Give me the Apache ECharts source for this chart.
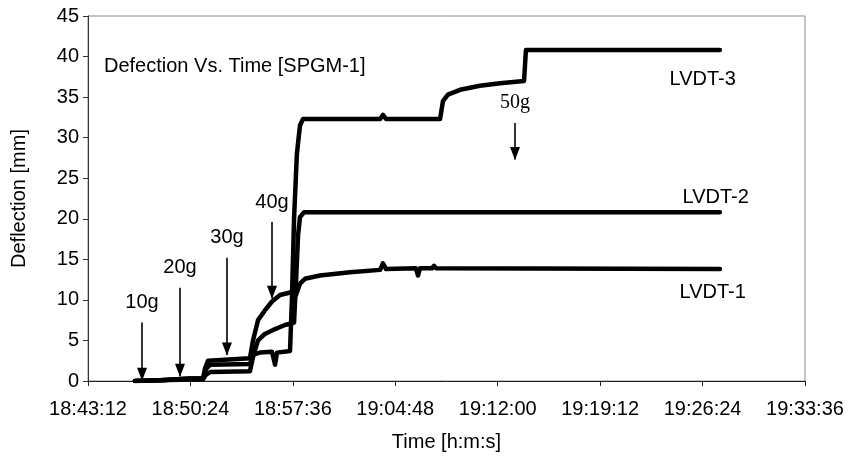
<!DOCTYPE html>
<html>
<head>
<meta charset="utf-8">
<script src="https://cdn.jsdelivr.net/npm/echarts@6/dist/echarts.min.js"></script>
<style>
  html, body { margin: 0; padding: 0; background: #fff; }
  #chart { width: 852px; height: 457px; }
</style>
</head>
<body>
<div id="chart"></div>
<script>
// Deflection vs time, SPGM-1 test
const xMin = '18:43:12';
const xMax = '19:33:36';
const xStep = 432; // 7:12 between ticks
const yMax = 45;

const lvdt3Times = ['18:46:30', '18:48:16', '18:50:22', '18:51:17', '18:51:30', '18:51:47', '18:54:35', '18:54:52',
    '18:55:17', '18:56:08', '18:56:21', '18:56:29', '18:57:24', '18:57:32', '18:57:41', '18:57:53', '18:58:06',
    '18:58:19', '19:03:44', '19:03:56', '19:04:09', '19:07:57', '19:08:09', '19:08:30', '19:09:21', '19:10:45',
    '19:12:10', '19:13:51', '19:13:59', '19:27:37'];
const lvdt3Values = [0, 0.1, 0.3, 0.3, 1.5, 2.0, 2.1, 3.3,
    3.5, 3.6, 2.0, 3.5, 3.7, 10, 20, 28, 31.5,
    32.3, 32.3, 32.8, 32.3, 32.3, 34.5, 35.3, 35.9, 36.4,
    36.7, 37.0, 40.8, 40.8];

const lvdt2Times = ['18:46:30', '18:48:16', '18:50:22', '18:51:17', '18:51:30', '18:51:47', '18:54:35', '18:54:48',
    '18:55:09', '18:55:38', '18:56:21', '18:57:03', '18:57:41', '18:57:49', '18:57:58', '18:58:06', '18:58:23',
    '19:27:37'];
const lvdt2Values = [0, 0.1, 0.2, 0.2, 0.8, 1.1, 1.2, 3.0,
    5.0, 5.8, 6.4, 6.9, 7.2, 12, 18, 20.2, 20.8,
    20.8];

const lvdt1Times = ['18:46:30', '18:48:16', '18:50:22', '18:51:17', '18:51:25', '18:51:38', '18:54:35', '18:54:48',
    '18:55:09', '18:55:38', '18:56:08', '18:56:42', '18:57:37', '18:57:49', '18:58:06', '18:58:27', '18:59:30',
    '19:01:37', '19:03:44', '19:03:56', '19:04:09', '19:06:15', '19:06:24', '19:06:32', '19:07:23', '19:07:31',
    '19:07:40', '19:27:37'];
const lvdt1Values = [0, 0.1, 0.3, 0.3, 1.5, 2.5, 2.8, 5.0,
    7.5, 8.7, 9.8, 10.6, 11.0, 10.6, 12.0, 12.6, 13.0,
    13.4, 13.7, 14.5, 13.8, 13.9, 13.0, 13.9, 13.9, 14.2,
    13.9, 13.8];

// load steps marked with arrows
const loadNames = ['10g', '20g', '30g', '40g', '50g'];
const loadTimes = ['18:47:00', '18:49:40', '18:52:58', '18:56:08', '19:13:13'];
const arrowTop = [7.2, 11.5, 15.2, 19.6, 31.8];
const arrowTip = [0.1, 0.6, 3.2, 10.2, 27.3];

function toSec(s) {
    const p = s.split(':').map(Number);
    return p[0] * 3600 + p[1] * 60 + p[2];
}
function fmt(sec) {
    const h = Math.floor(sec / 3600);
    const m = Math.floor((sec % 3600) / 60);
    const s = Math.round(sec % 60);
    return h + ':' + String(m).padStart(2, '0') + ':' + String(s).padStart(2, '0');
}
function pairs(times, values) {
    return times.map((t, i) => [toSec(t), values[i]]);
}

const font = 'Liberation Sans, Arial, sans-serif';
const serif = 'Liberation Serif, Times New Roman, serif';

const arrowLines = loadNames.map((name, i) => [
    {
        coord: [toSec(loadTimes[i]), arrowTop[i]],
        name: name,
        label: name === '50g' ? { fontFamily: serif } : undefined
    },
    { coord: [toSec(loadTimes[i]), arrowTip[i]] }
]);

const lineStyle = { color: '#000', width: 4.5, join: 'round', cap: 'round' };

function lvdtSeries(name, data, offset) {
    return {
        name: name,
        type: 'line',
        data: data,
        symbol: 'none',
        lineStyle: lineStyle,
        itemStyle: { color: '#000' },
        endLabel: {
            show: true,
            formatter: name,
            color: '#000',
            fontFamily: font,
            fontSize: 20,
            align: 'right',
            verticalAlign: 'middle',
            offset: offset
        },
        silent: true
    };
}

const chart = echarts.init(document.getElementById('chart'));
chart.setOption({
    animation: false,
    backgroundColor: '#fff',
    grid: { left: 88, right: 47, top: 16, bottom: 76, show: true, borderColor: '#888', borderWidth: 1 },
    graphic: [{
        type: 'text',
        left: 104,
        top: 56,
        style: { text: 'Defection Vs. Time [SPGM-1]', font: '20px ' + font, fill: '#000' }
    }],
    xAxis: {
        type: 'value',
        min: toSec(xMin),
        max: toSec(xMax),
        interval: xStep,
        name: 'Time [h:m:s]',
        nameLocation: 'middle',
        nameGap: 51,
        nameTextStyle: { color: '#000', fontFamily: font, fontSize: 20 },
        axisLine: { lineStyle: { color: '#222', width: 1 } },
        axisTick: { show: true, length: 5, inside: false, lineStyle: { color: '#222' } },
        axisLabel: { color: '#000', fontFamily: font, fontSize: 20, margin: 18, formatter: fmt },
        splitLine: { show: false }
    },
    yAxis: {
        type: 'value',
        min: 0,
        max: yMax,
        interval: 5,
        name: 'Deflection [mm]',
        nameLocation: 'middle',
        nameRotate: 90,
        nameGap: 59,
        nameTextStyle: { color: '#000', fontFamily: font, fontSize: 20 },
        axisLine: { show: true, lineStyle: { color: '#333', width: 1 } },
        axisTick: { show: true, length: 5, inside: false, lineStyle: { color: '#333' } },
        axisLabel: { color: '#000', fontFamily: font, fontSize: 20, margin: 9 },
        splitLine: { show: false }
    },
    series: [
        lvdtSeries('LVDT-3', pairs(lvdt3Times, lvdt3Values), [8, 29]),
        lvdtSeries('LVDT-2', pairs(lvdt2Times, lvdt2Values), [21, -15]),
        lvdtSeries('LVDT-1', pairs(lvdt1Times, lvdt1Values), [18, 23]),
        {
            // arrowheads at the load marks; the shafts are a markLine
            name: 'loads',
            type: 'scatter',
            data: pairs(loadTimes, arrowTip),
            symbol: 'triangle',
            symbolRotate: 180,
            symbolSize: [10, 13],
            symbolOffset: [0, -6],
            itemStyle: { color: '#000', opacity: 1 },
            silent: true,
            z: 3,
            markLine: {
                silent: true,
                symbol: ['none', 'none'],
                lineStyle: { color: '#000', width: 1.6, type: 'solid', opacity: 1 },
                label: {
                    show: true,
                    position: 'start',
                    distance: 10,
                    formatter: '{b}',
                    color: '#000',
                    fontFamily: font,
                    fontSize: 20
                },
                data: arrowLines
            }
        }
    ]
});
</script>
</body>
</html>
